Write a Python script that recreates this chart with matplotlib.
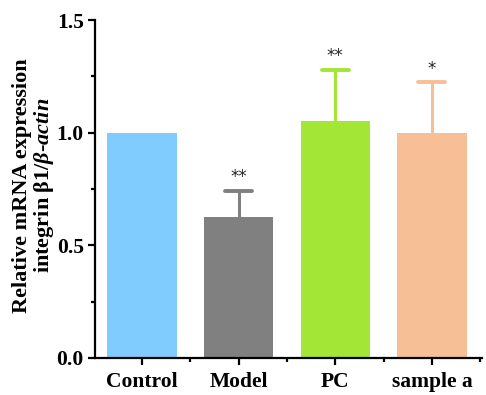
import matplotlib
matplotlib.use("Agg")
import matplotlib.pyplot as plt
import numpy as np

categories = ["Control", "Model", "PC", "sample a"]
means = [1.0, 0.625, 1.052, 0.999]
errors = [0.0, 0.118, 0.228, 0.225]
stars = ["", "**", "**", "*"]
colors = ["#80CCFF", "#808080", "#A3E635", "#F7BF95"]

plt.rcParams["font.family"] = ["Liberation Serif", "DejaVu Serif"]
plt.rcParams["font.weight"] = "bold"
plt.rcParams["mathtext.fontset"] = "custom"
plt.rcParams["mathtext.it"] = "Liberation Serif:italic:bold"
plt.rcParams["mathtext.rm"] = "Liberation Serif:bold"

fig = plt.figure(figsize=(4.86, 3.95), dpi=100)
ax = fig.add_axes([0.195, 0.094, 0.797, 0.855])

x = np.arange(len(categories))
ax.bar(x, means, width=0.72, color=colors, zorder=2)
for xi, m, e, c, s in zip(x, means, errors, colors, stars):
    if e > 0:
        ax.vlines(xi, m, m + e, color=c, linewidth=2.2, zorder=1)
        ax.hlines(m + e, xi - 0.14, xi + 0.14, color=c, linewidth=2.8,
                  capstyle="round", zorder=1)
    if s:
        ax.text(xi, m + e + 0.02, s, ha="center", va="bottom", fontsize=12,
                family="DejaVu Sans", fontweight="normal", color="#222222")

ax.set_xlim(-0.49, 3.52)
ax.set_ylim(0, 1.5)
ax.set_yticks([0, 0.5, 1.0, 1.5])
ax.set_yticklabels(["0.0", "0.5", "1.0", "1.5"])
ax.set_yticks([0.25, 0.75, 1.25], minor=True)
ax.set_xticks(x)
ax.set_xticklabels(categories)
ax.set_xticks([0.5, 1.5, 2.5, 3.5], minor=True)

for sp in ["top", "right"]:
    ax.spines[sp].set_visible(False)
for sp in ["left", "bottom"]:
    ax.spines[sp].set_linewidth(1.6)

ax.tick_params(axis="both", which="major", length=5, width=1.6, labelsize=15.5)
ax.tick_params(axis="both", which="minor", length=3, width=1.6)
ax.tick_params(axis="x", pad=5)
ax.tick_params(axis="y", pad=3)

ax.set_ylabel("Relative mRNA expression\nintegrin β1/$\\mathit{\\beta}$-$\\mathit{actin}$",
              fontsize=16, fontweight="bold", linespacing=1.0)
ax.yaxis.set_label_coords(-0.10, 0.51)

fig.savefig("out.png", dpi=100)
